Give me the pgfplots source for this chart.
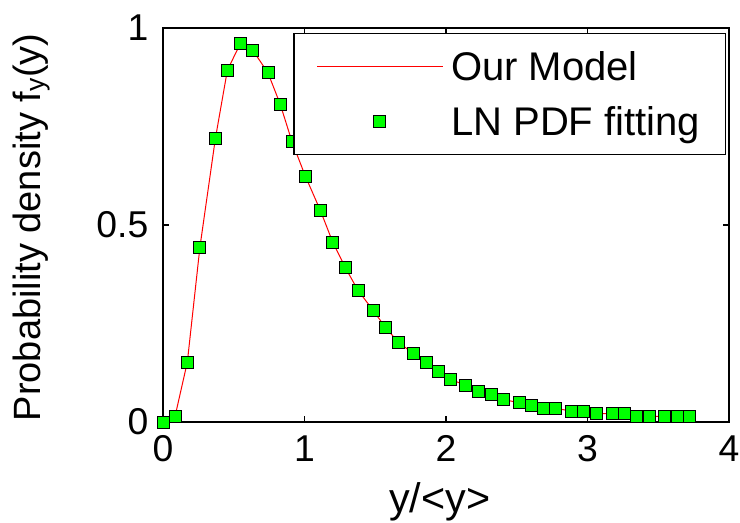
\documentclass[border=0pt]{standalone}
\usepackage{fontspec}
\setmainfont{Liberation Sans}
\usepackage{pgfplots}
\pgfplotsset{compat=1.18}
\pgfplotsset{
    linelegend/.style={legend image code/.code={\draw[##1, red, line width=0.75pt] (0pt,0pt) -- (94pt,0pt); \path (98pt,0pt);}},
    marklegend/.style={legend image code/.code={\draw[mark repeat=2,mark phase=2,##1] plot coordinates {(0pt,0pt) (47pt,0pt) (94pt,0pt)}; \path (98pt,0pt);}},
}

% measured curve, same points for the model line and the LN fit marks
\pgfplotstableread{
x      y
0      0
0.085  0.014
0.172  0.152
0.261  0.444
0.370  0.719
0.455  0.893
0.546  0.960
0.634  0.944
0.742  0.886
0.829  0.806
0.912  0.711
1.006  0.624
1.112  0.537
1.200  0.456
1.290  0.391
1.378  0.334
1.486  0.283
1.574  0.239
1.663  0.203
1.770  0.173
1.859  0.151
1.946  0.129
2.033  0.108
2.141  0.093
2.231  0.078
2.318  0.071
2.405  0.057
2.516  0.049
2.603  0.043
2.690  0.035
2.777  0.035
2.888  0.027
2.975  0.027
3.062  0.021
3.173  0.021
3.260  0.021
3.348  0.014
3.435  0.014
3.546  0.014
3.633  0.014
3.720  0.014
}\pdfdata

\begin{document}
\begin{tikzpicture}
\begin{axis}[
    name=main,
    scale only axis,
    width=424.5pt, height=295.5pt,
    xmin=0, xmax=4, ymin=0, ymax=1,
    xtick={0,1,2,3,4},
    ytick={0,0.5,1},
    tick align=inside,
    xtick pos=both, ytick pos=both,
    major tick length=4.5pt,
    axis line style={line width=1pt},
    tick style={line width=0.8pt, black},
    /pgf/number format/assume math mode=true,
    /pgf/number format/fixed,
    tick label style={font=\fontsize{28}{33}\selectfont},
    xticklabel style={yshift=-6.5pt},
    yticklabel style={xshift=-7.5pt},
    xlabel={y/<y>},
    ylabel={Probability density f\textsubscript{y}(y)},
    label style={font=\fontsize{31}{36}\selectfont},
    xlabel style={at={(rel axis cs:0.489,0)}, anchor=base, yshift=-68pt},
    ylabel style={at={(rel axis cs:-0.2173,0.494)}, anchor=base, font=\fontsize{28.5}{34}\selectfont},
    legend style={
        at={(0.995,0.987)}, anchor=north east,
        draw=black, line width=1pt,
        font=\fontsize{30}{35}\selectfont,
        inner xsep=17pt, inner ysep=11pt,
        row sep=14pt,
        cells={anchor=west},
    },
    legend cell align=left,
]
\addplot[red, line width=0.75pt, linelegend]
    table[x=x, y=y] {\pdfdata};
\addlegendentry{Our Model}
\addplot[only marks, mark=square*, mark size=4.5pt,
    mark options={fill={rgb,255:red,0;green,255;blue,0}, draw=black, line width=0.7pt},
    marklegend]
    table[x=x, y=y] {\pdfdata};
\addlegendentry{LN PDF fitting}
\end{axis}
\pgfresetboundingbox
\path ([xshift=-122.25pt,yshift=-75pt]main.south west) rectangle ([xshift=8.25pt,yshift=21pt]main.north east);
\end{tikzpicture}
\end{document}
